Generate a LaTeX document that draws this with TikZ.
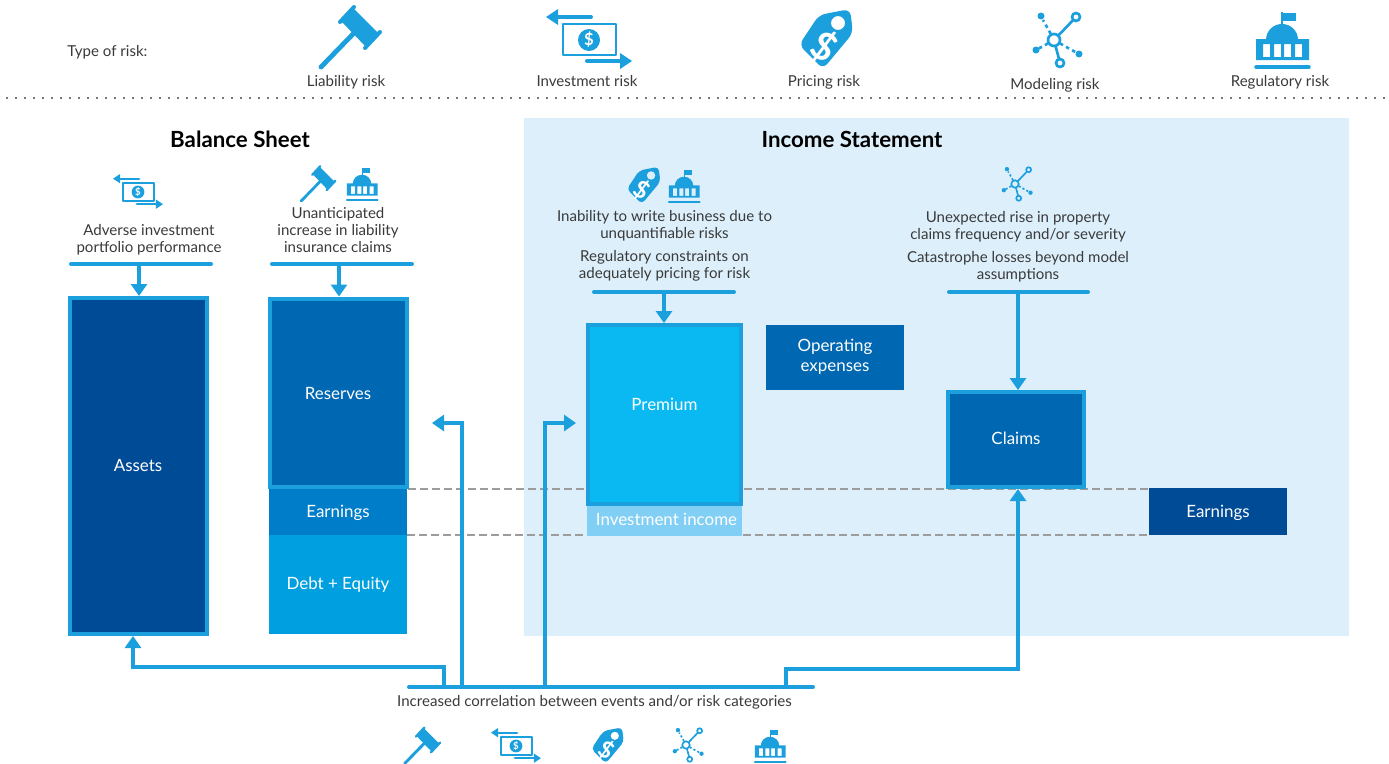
\documentclass[tikz,border=0pt]{standalone}
\usepackage{fontspec}
\setmainfont{Lato}
\usetikzlibrary{arrows.meta}
\definecolor{ln}{HTML}{1C9FDD}
\definecolor{panel}{HTML}{DCEFFB}
\definecolor{navy}{HTML}{004B96}
\definecolor{midb}{HTML}{0068B3}
\definecolor{earn}{HTML}{007DC8}
\definecolor{debt}{HTML}{00A0E0}
\definecolor{prem}{HTML}{0BB9F2}
\definecolor{inv}{HTML}{82CFF5}
\definecolor{txt}{HTML}{3A3A3A}
\definecolor{dash}{HTML}{9C9C9C}
\definecolor{dots}{HTML}{777777}
\newcommand\iconGavel[3]{\begin{scope}[shift={(#1,#2)},scale=#3]
 \fill[ln] (3,-28)--(29,-2)--(16,11)--(-9,-15)--cycle;
 \draw[ln,line cap=round,line width=#3*3pt] (4,-29)--(-10,-14);
 \draw[ln,line cap=round,line width=#3*3pt] (30,-4)--(15,12);
 \draw[ln,line cap=round,line width=#3*3.6pt] (5,-4)--(-29,31);
\end{scope}}
\newcommand\iconInvest[3]{\begin{scope}[shift={(#1,#2)},scale=#3]
 \draw[ln,line width=#3*2.2pt,line join=round] (-26,-16) rectangle (27,15);
 \fill[ln] (0,0) circle[radius=11];
 \node[transform shape,text=white,font=\fontsize{12.5pt}{13pt}\selectfont\bfseries,inner sep=0pt] at (0,0) {\$};
 \draw[ln,line cap=round,line width=#3*3pt] (2,-23)--(-33,-23);
 \fill[ln] (-43,-23)--(-31,-31)--(-31,-15)--cycle;
 \draw[ln,line cap=round,line width=#3*3pt] (-2,21)--(33,21);
 \fill[ln] (43,21)--(31,13)--(31,29)--cycle;
\end{scope}}
\newcommand\iconTag[3]{\begin{scope}[shift={(#1,#2)},scale=#3]
 \pgfmathsetmacro\rc{5*#3}
 \fill[ln,even odd rule,rounded corners=\rc pt] (25,-31)--(-6,-25)--(-26,5)--(-2,29)--(28,-7)--cycle (13,-17) circle[radius=7];
 \node[transform shape,rotate=-32,text=white,font=\fontsize{29pt}{30pt}\selectfont\bfseries,inner sep=0pt] at (-1,7) {\$};
\end{scope}}
\newcommand\iconModel[3]{\begin{scope}[shift={(#1,#2)},scale=#3]
 \pgfmathsetmacro\dd{2.6*#3}
 \begin{scope}[ln,line width=#3*2pt]
 \draw (0,0) circle[radius=6];
 \draw (22,-23) circle[radius=4];
 \draw (6,23) circle[radius=4];
 \draw (4.2,-4.3)--(19.2,-20);
 \draw (1.5,5.8)--(5,19);
 \begin{scope}[dash pattern=on \dd pt off \dd pt]
 \draw (-3.3,-6.2)--(-11,-20);
 \draw (-6,3.4)--(-15,8.4);
 \draw (6,3.4)--(22,12.4);
 \end{scope}
 \end{scope}
 \fill[ln] (-13,-24) circle[radius=3.5] (-18,10) circle[radius=3.5] (25,14) circle[radius=3.5];
\end{scope}}
\newcommand\iconReg[3]{\begin{scope}[shift={(#1,#2)},scale=#3]
 \draw[ln,line width=#3*1.1pt] (0,-28)--(0,-14);
 \fill[ln] (1,-27)--(14,-27)--(14,-19)--(1,-19)--cycle;
 \fill[ln] (-16,0) .. controls (-16,-9) and (-9,-16) .. (0,-16) .. controls (9,-16) and (16,-9) .. (16,0) -- cycle;
 \fill[ln,even odd rule] (-26,-1) rectangle (27,20)
  (-19,4) rectangle (-12,17) (-8,4) rectangle (-1,17) (2,4) rectangle (9,17) (13,4) rectangle (20,17);
 \draw[ln,line cap=round,line width=#3*2.6pt] (-26,27)--(27,27);
\end{scope}}
\tikzset{
 x=0.75pt,y=-0.75pt,
 lab/.style={font=\fontsize{11.3pt}{12.75pt}\selectfont,text=txt,align=center,inner sep=0pt,yshift=-1pt},
 ttl/.style={font=\fontsize{16.7pt}{18pt}\selectfont\bfseries,text=black,inner sep=0pt},
 blk/.style={inner sep=0pt,outer sep=0pt,text=white,font=\fontsize{12.7pt}{15pt}\selectfont,align=center},
 brd/.style={blk,draw=ln,line width=3pt,outer sep=1.5pt},
 bar/.style={draw=ln,line width=3pt,line cap=round},
 con/.style={draw=ln,line width=3pt},
 arr/.style={con,-{Triangle[length=9pt,width=12pt]}},
 dsh/.style={draw=dash,line width=0.9pt,dash pattern=on 6pt off 3pt},
}
\begin{document}
\begin{tikzpicture}
\useasboundingbox (0,0) rectangle (1389,764);
% header
\node[lab,anchor=west] (typ) at (67,51) {Type of risk:};
\iconGavel{350}{36}{1}
\iconInvest{589}{40}{1}
\iconTag{825}{40}{1}
\iconModel{1054}{40}{1}
\iconReg{1282}{40}{1}
\node[lab] (l1) at (346,81) {Liability risk};
\node[lab] (l2) at (587,80) {Investment risk};
\node[lab] (l3) at (824,81) {Pricing risk};
\node[lab] (l4) at (1055,84) {Modeling risk};
\node[lab] (l5) at (1280,81) {Regulatory risk};
\coordinate (dl) at (6,98); \coordinate (dr) at (1385,98);
\draw[draw=dots,line width=1.5pt,dash pattern=on 1.5pt off 5.25pt] (dl)--(dr);
% panel
\fill[panel] (524,118) rectangle (1349,636);
\node[ttl] (bs) at (240,139) {Balance Sheet};
\node[ttl] (is) at (852,139) {Income Statement};
% dashed guides
\coordinate (d1a) at (408,489); \coordinate (d1b) at (1149,489);
\coordinate (d2a) at (407,535); \coordinate (d2b) at (1149,535);
\draw[dsh] (d1a)--(d1b);
\draw[dsh] (d2a)--(d2b);
% blocks
\node[brd,fill=navy,minimum width=137*.75pt,minimum height=336*.75pt] (assets) at (138,466) {\raisebox{1.5pt}{Assets}};
\node[blk,fill=earn,minimum width=138*.75pt,minimum height=48*.75pt] (earn1) at (338,511.5) {\raisebox{-4.2pt}[0pt][0pt]{Earnings}};
\node[blk,fill=debt,minimum width=138*.75pt,minimum height=99*.75pt] (debtb) at (338,584.5) {\raisebox{1.5pt}{Debt + Equity}};
\node[brd,fill=midb,minimum width=137*.75pt,minimum height=188*.75pt] (res) at (338,392.5) {\raisebox{-5pt}[0pt][0pt]{Reserves}};
\node[blk,fill=inv,minimum width=155*.75pt,minimum height=31*.75pt] (invi) at (664.5,520.5) {\hspace*{3pt}\raisebox{2pt}{Investment income}};
\node[brd,fill=prem,minimum width=153*.75pt,minimum height=179*.75pt] (premb) at (664.5,414.5) {\raisebox{15pt}{Premium}};
\node[blk,fill=midb,minimum width=138*.75pt,minimum height=65*.75pt] (opx) at (835,357) {Operating\\expenses};
\node[brd,fill=midb,minimum width=136*.75pt,minimum height=95*.75pt] (cl) at (1016,439.5) {\raisebox{2.5pt}{Claims}};
\node[blk,fill=navy,minimum width=138*.75pt,minimum height=47*.75pt] (earn2) at (1218,511.5) {\raisebox{-4.2pt}[0pt][0pt]{Earnings}};
% small icons and captions
\iconInvest{138}{192}{0.58}
\iconGavel{318}{183}{0.58}
\iconReg{362}{184}{0.58}
\iconTag{643}{186}{0.62}
\iconReg{684}{186}{0.58}
\iconModel{1015}{184}{0.62}
\node[lab] (t1) at (149,238.5) {Adverse investment\\portfolio performance};
\node[lab] (t2) at (338,229) {Unanticipated\\increase in liability\\insurance claims};
\node[lab] (t3) at (664.5,224.5) {Inability to write business due to\\unquantifiable risks};
\node[lab] (t4) at (664.5,264) {Regulatory constraints on\\adequately pricing for risk};
\node[lab] (t5) at (1018,225.5) {Unexpected rise in property\\claims frequency and/or severity};
\node[lab] (t6) at (1018,265.5) {Catastrophe losses beyond model\\assumptions};
% top bars
\coordinate (b1a) at (71,264); \coordinate (b1b) at (211,264); \coordinate (b1m) at (139,264);
\coordinate (b2a) at (272,264); \coordinate (b2b) at (412,264); \coordinate (b2m) at (339,264);
\coordinate (b3a) at (594,292); \coordinate (b3b) at (734,292); \coordinate (b3m) at (664,292);
\coordinate (b4a) at (949,292); \coordinate (b4b) at (1088,292); \coordinate (b4m) at (1018,292);
\draw[bar] (b1a)--(b1b); \draw[arr] (b1m)--(b1m |- assets.north);
\draw[bar] (b2a)--(b2b); \draw[arr] (b2m)--(b2m |- res.north);
\draw[bar] (b3a)--(b3b); \draw[arr] (b3m)--(b3m |- premb.north);
\draw[bar] (b4a)--(b4b); \draw[arr] (b4m)--(b4m |- cl.north);
% bottom
\coordinate (ba) at (409,687); \coordinate (bb) at (813,687);
\coordinate (c1) at (444,687); \coordinate (c2) at (462,687); \coordinate (c3) at (545,687); \coordinate (c4) at (786,687);
\coordinate (e2) at (432,423); \coordinate (e3) at (576,423);
\draw[bar] (ba)--(bb);
\draw[arr] (c1)--(444,667)--(133,667)--(133,636);
\draw[arr] (c2)--(c2 |- e2)--(e2);
\draw[arr] (c3)--(c3 |- e3)--(e3);
\draw[arr] (c4)--(786,669)--(1018,669)--(1018,489);
\node[lab] (corr) at (594.5,701) {Increased correlation between events and/or risk categories};
\iconGavel{422}{745}{0.6}
\iconInvest{516}{746}{0.58}
\iconTag{607}{746}{0.6}
\iconModel{686}{745}{0.62}
\iconReg{770}{746}{0.58}
\end{tikzpicture}
\end{document}
